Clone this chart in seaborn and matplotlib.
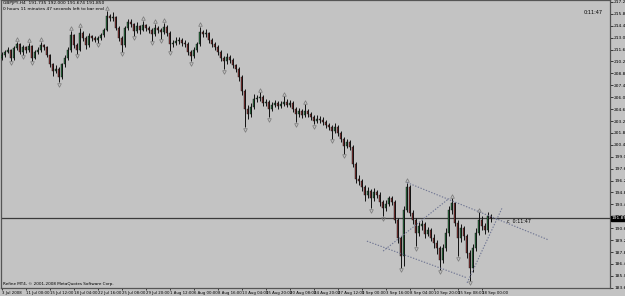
import numpy as np
import pandas as pd
import matplotlib
matplotlib.use("Agg")
import matplotlib.pyplot as plt
import matplotlib.transforms as mtransforms
import seaborn as sns

# ---------------- data (GBPJPY H4) ----------------
first_open = 210.75
close = [
    211.10, 211.45, 211.69, 210.75, 211.92, 212.39, 211.45, 212.04, 211.69, 212.15,
    210.75, 211.45, 211.69, 212.27, 212.04, 211.10, 209.94, 209.12, 209.35, 208.42,
    209.94, 210.75, 211.69, 213.44, 212.27, 211.69, 213.67, 213.09, 212.27, 213.32,
    213.09, 212.85, 213.09, 213.44, 214.02, 215.65, 215.42, 215.54, 214.25, 213.09, 212.27,
    214.25, 214.95, 214.72, 213.90, 214.49, 214.02, 214.60, 214.25, 214.02, 213.55,
    214.25, 214.02, 213.79, 214.37, 213.67, 212.39, 212.50, 212.74, 212.85, 212.50, 212.39,
    211.45, 210.99, 211.69, 212.39, 213.79, 213.55, 213.67, 212.85, 212.39, 212.04,
    211.45, 210.75, 210.29, 210.87, 210.52, 209.82, 209.35, 208.42, 206.79,
    204.69, 204.10, 204.92, 205.85, 205.97, 206.09, 205.39, 205.50, 204.69, 205.15,
    205.39, 205.04, 205.27, 205.50, 205.15, 205.39, 204.69, 204.10, 204.45, 203.99,
    204.45, 204.10, 203.75, 203.29, 203.52, 203.40, 203.17, 202.82, 202.59, 202.12,
    202.59, 201.89, 201.19, 200.37, 200.84, 200.25, 198.27, 196.52, 196.29,
    195.59, 194.65, 195.12, 194.19, 195.00, 194.65, 193.72, 193.02, 193.49, 194.19,
    193.72, 191.62, 189.52, 187.42, 192.79,
    195.59, 192.44, 191.62, 190.10, 190.92, 191.15, 189.99, 190.45, 189.52, 188.94,
    188.35, 186.95, 188.35, 190.10, 192.79, 193.60,
    191.27, 189.52, 190.69, 189.75, 187.77, 186.02, 188.35, 190.10, 191.62, 190.92,
    190.45, 192.09, 191.85,
]
high = [
    211.45, 211.69, 212.04, 211.80, 212.15, 212.62, 212.50, 212.27, 212.15, 212.50,
    212.27, 211.69, 212.04, 212.62, 212.39, 212.15, 211.22, 210.17, 209.82, 209.59,
    210.17, 211.10, 212.04, 213.90, 213.55, 212.50, 214.25, 213.90, 213.32, 213.67,
    213.44, 213.32, 213.32, 213.67, 214.25, 216.24, 215.89, 216.12, 215.65, 214.49, 213.32,
    214.49, 215.30, 215.30, 214.84, 214.95, 214.60, 215.07, 214.72, 214.49, 214.25,
    214.72, 214.49, 214.25, 214.84, 214.60, 213.90, 212.85, 213.20, 213.20, 213.09, 212.85,
    212.62, 211.69, 212.04, 212.62, 214.37, 214.02, 214.14, 213.79, 213.09, 212.62,
    212.27, 211.69, 210.99, 211.34, 211.10, 210.75, 210.05, 209.59, 208.65,
    207.02, 205.15, 205.39, 206.44, 206.32, 206.67, 206.32, 205.85, 205.74, 205.50,
    205.74, 205.62, 205.62, 206.20, 205.85, 205.74, 205.62, 204.92, 204.80, 204.69,
    205.27, 204.69, 204.34, 203.99, 203.99, 203.87, 203.75, 203.40, 203.05, 202.82,
    203.05, 202.82, 202.12, 201.42, 201.19, 201.07, 200.49, 198.50, 196.99,
    196.52, 195.82, 195.59, 195.35, 195.47, 195.24, 194.89, 193.95, 193.95, 194.42,
    194.42, 193.95, 191.85, 189.75, 193.25,
    196.05, 195.82, 192.79, 191.85, 191.39, 191.62, 191.39, 190.80, 190.69, 189.99,
    189.29, 188.59, 188.82, 190.69, 193.25, 194.19,
    193.72, 191.62, 191.15, 190.92, 189.99, 188.12, 188.82, 190.69, 192.55, 192.09,
    191.27, 192.55, 192.32,
]
low = [
    210.52, 210.87, 211.34, 210.40, 210.52, 211.69, 211.22, 211.10, 211.34, 211.45,
    210.40, 210.64, 211.22, 211.45, 211.69, 210.87, 209.70, 208.54, 208.89, 207.84,
    208.19, 209.70, 210.52, 211.45, 211.92, 211.22, 211.57, 212.74, 211.80, 212.04,
    212.74, 212.62, 212.50, 212.85, 213.20, 213.90, 215.07, 215.07, 214.02, 212.74, 211.45,
    212.04, 214.02, 214.37, 213.32, 213.67, 213.55, 213.90, 213.90, 213.67, 212.74,
    213.32, 213.67, 212.97, 213.55, 213.32, 211.57, 212.04, 212.27, 212.39, 212.15, 212.04,
    211.10, 210.29, 210.75, 211.45, 212.15, 213.20, 213.20, 212.50, 212.04, 211.69,
    211.10, 210.40, 209.35, 210.05, 210.17, 209.47, 209.00, 207.95, 206.32,
    202.59, 203.52, 203.75, 204.69, 205.50, 205.62, 205.04, 205.04, 203.75, 204.45,
    204.92, 204.69, 204.80, 205.04, 204.92, 204.92, 204.34, 203.17, 203.75, 203.64,
    203.75, 203.75, 203.40, 202.94, 203.05, 203.05, 202.82, 202.47, 202.24, 201.19,
    201.89, 201.54, 200.84, 199.44, 200.14, 199.90, 197.92, 196.05, 195.82,
    195.12, 193.84, 194.30, 193.02, 193.84, 194.19, 193.25, 192.09, 192.67, 193.25,
    193.37, 191.27, 188.94, 186.02, 186.25,
    192.55, 192.09, 191.15, 188.59, 189.75, 190.45, 189.52, 189.75, 189.17, 188.35,
    187.65, 185.79, 186.60, 188.00, 189.75, 192.32,
    190.92, 187.42, 189.05, 189.29, 187.19, 184.50, 185.55, 188.00, 189.87, 190.45,
    189.99, 190.22, 191.39,
]
date_labels = ["3 Jul 2008", "11 Jul 00:00", "15 Jul 12:00", "18 Jul 04:00", "22 Jul 16:00",
               "25 Jul 08:00", "29 Jul 20:00", "1 Aug 12:00", "6 Aug 00:00", "8 Aug 16:00",
               "13 Aug 04:00", "15 Aug 20:00", "20 Aug 08:00", "24 Aug 20:00", "27 Aug 12:00",
               "1 Sep 00:00", "3 Sep 16:00", "8 Sep 04:00", "10 Sep 20:00", "15 Sep 08:00",
               "18 Sep 00:00"]
price_ticks = [217.29, 215.89, 214.49, 213.09, 211.69, 210.29, 208.89, 207.49, 206.09,
               204.69, 203.29, 201.89, 200.49, 199.09, 197.69, 196.29, 194.89, 193.49,
               192.09, 190.69, 189.29, 187.89, 186.49, 185.09, 183.69]
bid_price = 191.85
# trendline anchors: (bar index, price)
trend_upper_x = [135.2, 182.5]; trend_upper_y = [196.05, 189.29]
trend_lower_x = [121.8, 155.2]; trend_lower_y = [189.17, 184.85]
trend_mid_x = [127.2, 149.2];   trend_mid_y = [188.00, 194.19]
trend_steep_x = [155.2, 166.8]; trend_steep_y = [184.27, 193.02]

# ---------------- drawing ----------------
BG = "#c3c3c3"
df = pd.DataFrame({"close": close, "high": high, "low": low})
df["open"] = [first_open] + close[:-1]
df["x"] = np.arange(len(df))
df["high"] = df[["high", "open", "close"]].max(axis=1)
df["low"] = df[["low", "open", "close"]].min(axis=1)
bull = df["close"] >= df["open"]

fig = plt.figure(figsize=(6.25, 2.96), dpi=100, facecolor=BG)
ax = fig.add_axes([1 / 625, 8 / 296, 609 / 625, 288 / 296])
ax.set_facecolor(BG)

ax.vlines(df["x"], df["low"], df["high"], color="#111111", lw=0.7, zorder=3)
body_b = np.maximum((df["close"] - df["open"]).abs(), 0.04)
bot = df[["open", "close"]].min(axis=1)
ax.bar(df["x"][bull], body_b[bull], bottom=bot[bull], width=0.6, color="#2f8a4a",
       edgecolor="#111111", lw=0.3, zorder=4)
ax.bar(df["x"][~bull], body_b[~bull], bottom=bot[~bull], width=0.6, color="#a33a3a",
       edgecolor="#111111", lw=0.3, zorder=4)

# Bill Williams fractals
h = df["high"].values; l = df["low"].values
up_idx, dn_idx = [], []
for i in range(2, len(df) - 2):
    if h[i] > max(h[i - 2], h[i - 1], h[i + 1], h[i + 2]):
        up_idx.append(i)
    if l[i] < min(l[i - 2], l[i - 1], l[i + 1], l[i + 2]):
        dn_idx.append(i)
ax.plot(np.array(up_idx), h[up_idx] + 0.30, ls="none", marker="^", ms=2.6, mfc="none",
        mec="#7c7c7c", mew=0.55, zorder=5)
ax.plot(np.array(dn_idx), l[dn_idx] - 0.30, ls="none", marker="v", ms=2.6, mfc="none",
        mec="#7c7c7c", mew=0.55, zorder=5)

# bid line
ax.axhline(bid_price, color="#3a3a3a", lw=0.9, zorder=2)

# trendlines
for tx, ty in [(trend_upper_x, trend_upper_y), (trend_lower_x, trend_lower_y),
               (trend_mid_x, trend_mid_y), (trend_steep_x, trend_steep_y)]:
    sns.lineplot(x=tx, y=ty, ax=ax, color="#6f7592", lw=0.8, linestyle=(0, (1.2, 1.4)),
                 zorder=6, legend=False)

ax.set_xlim(-0.167, -0.167 + 609 / 3)
ax.set_ylim(183.66, 217.52)

ax.set_xticks(np.arange(0, 8 * len(date_labels), 8))
ax.set_xticklabels(date_labels, fontsize=2.75, ha="left")
ax.tick_params(axis="x", direction="out", length=1.5, width=0.5, pad=0.6, colors="#000000")
ax.yaxis.tick_right()
ax.set_yticks(price_ticks)
ax.set_yticklabels([f"{v:.3f}" for v in price_ticks], fontsize=3.2)
ax.tick_params(axis="y", direction="out", length=2, width=0.5, pad=1)
for s in ax.spines.values():
    s.set_color("#555555")
    s.set_linewidth(0.9)
ax.set_xlabel(""); ax.set_ylabel("")

trans = mtransforms.blended_transform_factory(ax.transAxes, ax.transData)
ax.text(1.003, bid_price, "191.850", transform=trans, fontsize=3.2, color="white",
        va="center", ha="left", bbox=dict(boxstyle="square,pad=0.15", fc="black", ec="black"),
        clip_on=False)

ax.text(0.004, 0.997, "GBPJPY,H4  191.735 192.000 191.674 191.850", transform=ax.transAxes,
        fontsize=3.2, va="top", ha="left")
ax.text(0.004, 0.976, "0 hours 11 minutes 47 seconds left to bar end", transform=ax.transAxes,
        fontsize=3.2, va="top", ha="left")
ax.text(0.988, 0.958, "0:11:47", transform=ax.transAxes, fontsize=3.6, va="center", ha="right")
ax.text(168.5, bid_price - 0.05, "c  0:11:47", fontsize=3.4, va="top", ha="left", zorder=7)
ax.text(0.003, 0.006, "Refine MT4, \u00a9 2001-2008 MetaQuotes Software Corp.",
        transform=ax.transAxes, fontsize=3.0, va="bottom", ha="left")

fig.savefig("out.png", dpi=100, facecolor=BG)
